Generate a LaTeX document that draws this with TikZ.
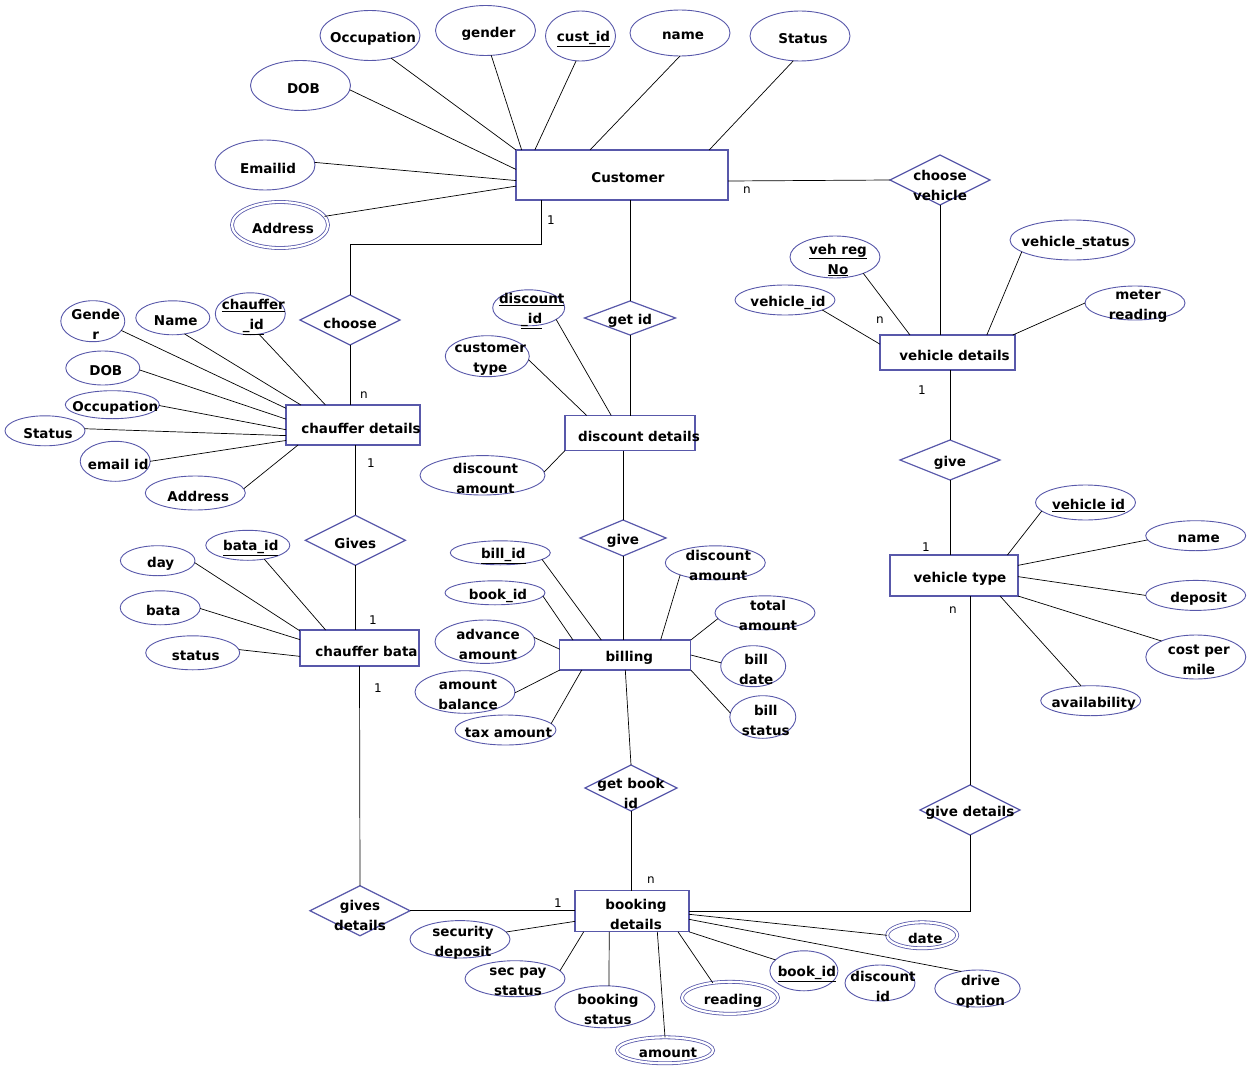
\documentclass[tikz,border=0pt]{standalone}
\usepackage{fontspec}
\setmainfont{DejaVu Sans}
\usetikzlibrary{shapes.geometric}
\definecolor{erline}{RGB}{88,88,170}
\begin{document}
\begin{tikzpicture}[x=1pt,y=-1pt,
  every node/.style={inner sep=0pt,outer sep=0pt},
  txt/.style={font=\fontsize{13.5}{20}\selectfont\bfseries, align=center, text=black, yshift=-3pt},
  atxt/.style={txt, xshift=3pt},
  card/.style={font=\fontsize{12}{14}\selectfont, text=black},
  conn/.style={draw=black, line width=0.7pt},
  ent/.style n args={5}{rectangle, draw=erline, line width=#4, minimum width=#1, minimum height=#2,
    label={[txt,xshift=#3]center:{#5}}},
  attr/.style n args={3}{ellipse, draw=erline, line width=0.9pt, minimum width={2*#1}, minimum height={2*#2},
    label={[atxt]center:{#3}}},
  dattr/.style n args={3}{ellipse, draw=erline, line width=0.8pt, double=white, double distance=2.2pt,
    minimum width={2*#1}, minimum height={2*#2}, label={[atxt]center:{#3}}},
  rel/.style n args={4}{diamond, draw=erline, line width=1.2pt, minimum width=#1, minimum height=#2,
    label={[txt,yshift=#3]center:{#4}}},
]
\fill[white] (0,0) rectangle (1250,1070);
\useasboundingbox (0,0) rectangle (1250,1070);

% ---------- entities ----------
\node[ent={212}{50}{6pt}{2pt}{Customer}] (cust) at (622,175) {};
\node[ent={135}{35}{7pt}{1.2pt}{vehicle details}] (vd) at (947.5,352.5) {};
\node[ent={128}{41}{6pt}{1.4pt}{vehicle type}] (vt) at (954,575.5) {};
\node[ent={134}{40}{8pt}{1.5pt}{chauffer details}] (cd) at (353,425) {};
\node[ent={119}{36}{7pt}{1.2pt}{chauffer bata}] (cb) at (359.5,648) {};
\node[ent={130}{35}{9pt}{1.2pt}{discount details}] (dd) at (630,433) {};
\node[ent={131}{30}{4pt}{1.2pt}{billing}] (bill) at (625.3,655) {};
\node[ent={114}{41}{4pt}{1.2pt}{booking\\details}] (book) at (632,911.3) {};

% ---------- relationships ----------
\node[rel={100}{50}{0pt}{choose}] (chs) at (350,320) {};
\node[rel={100}{50}{-2pt}{choose\\vehicle}] (cv) at (940,180) {};
\node[rel={91}{34}{0pt}{get id}] (getid) at (630,318) {};
\node[rel={100}{40}{0pt}{give}] (giveA) at (950,460) {};
\node[rel={100}{50}{0pt}{Gives}] (gives) at (355.3,540.3) {};
\node[rel={86}{36}{0pt}{give}] (giveB) at (623,538) {};
\node[rel={100}{50}{0pt}{give details}] (gdet) at (970,810) {};
\node[rel={92}{46}{-2pt}{get book\\id}] (gbi) at (631,788) {};
\node[rel={100}{50}{-2pt}{gives\\details}] (gsd) at (360,910.7) {};

% ---------- customer attributes ----------
\node[attr={50}{25}{Occupation}] (cocc) at (370,35.5) {};
\node[attr={50}{25}{gender}] (cgen) at (485.5,30.5) {};
\node[attr={35}{25}{\underline{cust\_id}}] (cid) at (580.5,36) {};
\node[attr={50}{23}{name}] (cname) at (680,33) {};
\node[attr={50}{25}{Status}] (cstat) at (800,36) {};
\node[attr={50}{25}{DOB}] (cdob) at (300.5,85.5) {};
\node[attr={50}{25}{Emailid}] (cmail) at (265,165) {};
\node[dattr={48}{23}{Address}] (caddr) at (280,225) {};

% ---------- vehicle details attributes ----------
\node[attr={45}{21}{\underline{veh reg}\\\underline{No}}] (vreg) at (835,257) {};
\node[attr={50}{15}{vehicle\_id}] (vdid) at (785,300) {};
\node[attr={62.5}{20}{vehicle\_status}] (vdst) at (1072.5,240) {};
\node[attr={50}{17}{meter\\reading}] (vmet) at (1135,303) {};

% ---------- vehicle type attributes ----------
\node[attr={50}{17.5}{\underline{vehicle id}}] (vtid) at (1085.5,502.5) {};
\node[attr={50}{15}{name}] (vtnm) at (1195.7,535.7) {};
\node[attr={50}{15}{deposit}] (vtdp) at (1195.7,595.4) {};
\node[attr={50}{22}{cost per\\mile}] (vtcm) at (1195.8,657) {};
\node[attr={50}{15}{availability}] (vtav) at (1090.7,700.7) {};

% ---------- chauffer details attributes ----------
\node[attr={32}{20.5}{Gende\\r}] (hgen) at (92.8,321.2) {};
\node[attr={37}{17}{Name}] (hnam) at (172.8,317.8) {};
\node[attr={35}{21}{\underline{chauffer}\\\underline{\_id}}] (hid) at (250.3,313.8) {};
\node[attr={37}{17}{DOB}] (hdob) at (102.8,368) {};
\node[attr={47}{14}{Occupation}] (hocc) at (112.3,404.7) {};
\node[attr={40}{15}{Status}] (hst) at (45,430.8) {};
\node[attr={35}{20}{email id}] (hmail) at (115.2,461.3) {};
\node[attr={50}{17}{Address}] (haddr) at (195.3,493) {};

% ---------- chauffer bata attributes ----------
\node[attr={37.3}{15}{day}] (bday) at (157.7,560.7) {};
\node[attr={42}{15}{\underline{bata\_id}}] (bid) at (247.8,545.3) {};
\node[attr={40}{17}{bata}] (bbata) at (160.2,607.8) {};
\node[attr={47}{17}{status}] (bst) at (192.7,652.8) {};

% ---------- discount details attributes ----------
\node[attr={36}{18}{\underline{discount}\\\underline{\_id}}] (did) at (528.7,307.8) {};
\node[attr={42}{20.5}{customer\\type}] (dct) at (487.3,356.2) {};
\node[attr={62.5}{19.7}{discount\\amount}] (dam) at (482.5,475.3) {};

% ---------- billing attributes ----------
\node[attr={50}{12}{\underline{bill\_id}}] (lbid) at (500.3,552.8) {};
\node[attr={50}{12}{book\_id}] (lbk) at (495,592.8) {};
\node[attr={50}{21.7}{advance\\amount}] (ladv) at (485,641.7) {};
\node[attr={50}{21.3}{amount\\balance}] (lbal) at (465,692) {};
\node[attr={50.5}{15}{tax amount}] (ltax) at (505.5,730) {};
\node[attr={50}{17}{discount\\amount}] (ldis) at (715.3,562.8) {};
\node[attr={50}{17}{total\\amount}] (ltot) at (765,612.8) {};
\node[attr={32.5}{20.5}{bill\\date}] (ldate) at (753.2,666.2) {};
\node[attr={33}{21.3}{bill\\status}] (lst) at (762.8,717) {};

% ---------- booking details attributes ----------
\node[attr={50}{18.7}{security\\deposit}] (ksec) at (460,939.3) {};
\node[attr={50}{18}{sec pay\\status}] (kpay) at (515,978.7) {};
\node[attr={50}{21}{booking\\status}] (kbst) at (604.9,1006.8) {};
\node[dattr={48}{13}{amount}] (kamt) at (665,1050.3) {};
\node[dattr={48}{16}{reading}] (kread) at (730,997.8) {};
\node[attr={34}{20}{\underline{book\_id}}] (kbid) at (803.9,970.8) {};
\node[attr={35}{18}{discount\\id}] (kdis) at (880,983) {};
\node[dattr={35}{13}{date}] (kdate) at (922.2,935.3) {};
\node[attr={42.7}{18.5}{drive\\option}] (kdrv) at (977.5,988.5) {};

% ---------- attribute connectors ----------
\draw[conn] (cocc.-47) -- (cust.north west);
\draw[conn] (cgen.-77) -- (cust.166.2);
\draw[conn] (cid.-100.6) -- (cust.164.8);
\draw[conn] (cname.-90) -- (cust.142);
\draw[conn] (cstat.-105) -- (cust.16.8);
\draw[conn] (cdob.-5) -- (cust.177.3);
\draw[conn] (cmail.3.5) -- (cust.-177.3);
\draw[conn] (caddr.11.8) -- (cust.-174.6);

\draw[conn] (vreg.-30) -- (vd.155);
\draw[conn] (vdid.-15.5) -- (vd.173.7);
\draw[conn] (vdst.193) -- (vd.24.7);
\draw[conn] (vmet.180) -- (vd.15.3);

\draw[conn] (vtid.191) -- (vt.21.9);
\draw[conn] (vtnm.185.7) -- (vt.9.1);
\draw[conn] (vtdp.180) -- (vt.-1.3);
\draw[conn] (vtcm.155.3) -- (vt.south east);
\draw[conn] (vtav.123.7) -- (vt.-24);

\draw[conn] (hgen.-18.8) -- (cd.166.7);
\draw[conn] (hnam.-54.6) -- (cd.159.3);
\draw[conn] (hid.-67.7) -- (cd.144.3);
\draw[conn] (hdob.-3) -- (cd.175.5);
\draw[conn] (hocc.-1.6) -- (cd.-176);
\draw[conn] (hst.3.1) -- (cd.-171.5);
\draw[conn] (hmail.0) -- (cd.-167.1);
\draw[conn] (haddr.5) -- (cd.-160.9);

\draw[conn] (bday.-3.2) -- (cb.164);
\draw[conn] (bid.-40.5) -- (cb.152.6);
\draw[conn] (bbata.-1.7) -- (cb.172.4);
\draw[conn] (bst.4.4) -- (cb.-172.9);

\draw[conn] (did.-23.1) -- (dd.137.5);
\draw[conn] (dct.-5.1) -- (dd.158.5);
\draw[conn] (dam.3.4) -- (dd.south west);

\draw[conn] (lbid.-9.2) -- (bill.148.6);
\draw[conn] (lbk.-4.9) -- (bill.164.6);
\draw[conn] (ladv.5.8) -- (bill.175.6);
\draw[conn] (lbal.-1.5) -- (bill.south west);
\draw[conn] (ltax.8.7) -- (bill.-161.4);
\draw[conn] (ldis.199) -- (bill.23.4);
\draw[conn] (ltot.187) -- (bill.north east);
\draw[conn] (ldate.174.9) -- (bill.-0.6);
\draw[conn] (lst.173.6) -- (bill.south east);

\draw[conn] (ksec.9.7) -- (book.-170.6);
\draw[conn] (kpay.10.7) -- (book.-157.6);
\draw[conn] (kbst.79.3) -- (book.-138);
\draw[conn] (kamt.90) -- (book.-39.3);
\draw[conn] (kread.139.5) -- (book.-24);
\draw[conn] (kbid.159.2) -- (book.south east);
\draw[conn] (kdate.180) -- (book.-3.7);
\draw[conn] (kdrv.134.5) -- (book.-8.9);

% ---------- relationship connectors ----------
\draw[conn] ([xshift=25pt]cust.south west) -- ++(0,44) -| (chs.north);
\draw[conn] (getid.north |- cust.south) -- (getid.north);
\draw[conn] ([yshift=-6pt]cust.east) -- (cv.west);
\draw[conn] (cv.south) -- (cv.south |- vd.north);
\draw[conn] (giveA.north |- vd.south) -- (giveA.north);
\draw[conn] (giveA.south) -- (giveA.south |- vt.north);
\draw[conn] (gdet.north |- vt.south) -- (gdet.north);
\draw[conn] (gdet.south) |- (book.east);
\draw[conn] (chs.south) -- (chs.south |- cd.north);
\draw[conn] (gives.north |- cd.south) -- (gives.north);
\draw[conn] (gives.south) -- (gives.south |- cb.north);
\draw[conn] (cb.south) -- (gsd.north);
\draw[conn] (gsd.east) -- (gsd.east -| book.west);
\draw[conn] (getid.south) -- (dd.north);
\draw[conn] (giveB.north |- dd.south) -- (giveB.north);
\draw[conn] (giveB.south) -- (giveB.south |- bill.north);
\draw[conn] (bill.south) -- (gbi.north);
\draw[conn] (gbi.south) -- (gbi.south |- book.north);

% ---------- cardinalities ----------
\node[card] (k1) at (551,220) {1};
\node[card] (k2) at (747,190) {n};
\node[card] (k3) at (880,320) {n};
\node[card] (k4) at (922,390) {1};
\node[card] (k5) at (926,547) {1};
\node[card] (k6) at (953,610) {n};
\node[card] (k7) at (364,395) {n};
\node[card] (k8) at (371,463) {1};
\node[card] (k9) at (373,620) {1};
\node[card] (k10) at (378,688) {1};
\node[card] (k11) at (651,880) {n};
\node[card] (k12) at (558,903) {1};
\end{tikzpicture}
\end{document}
